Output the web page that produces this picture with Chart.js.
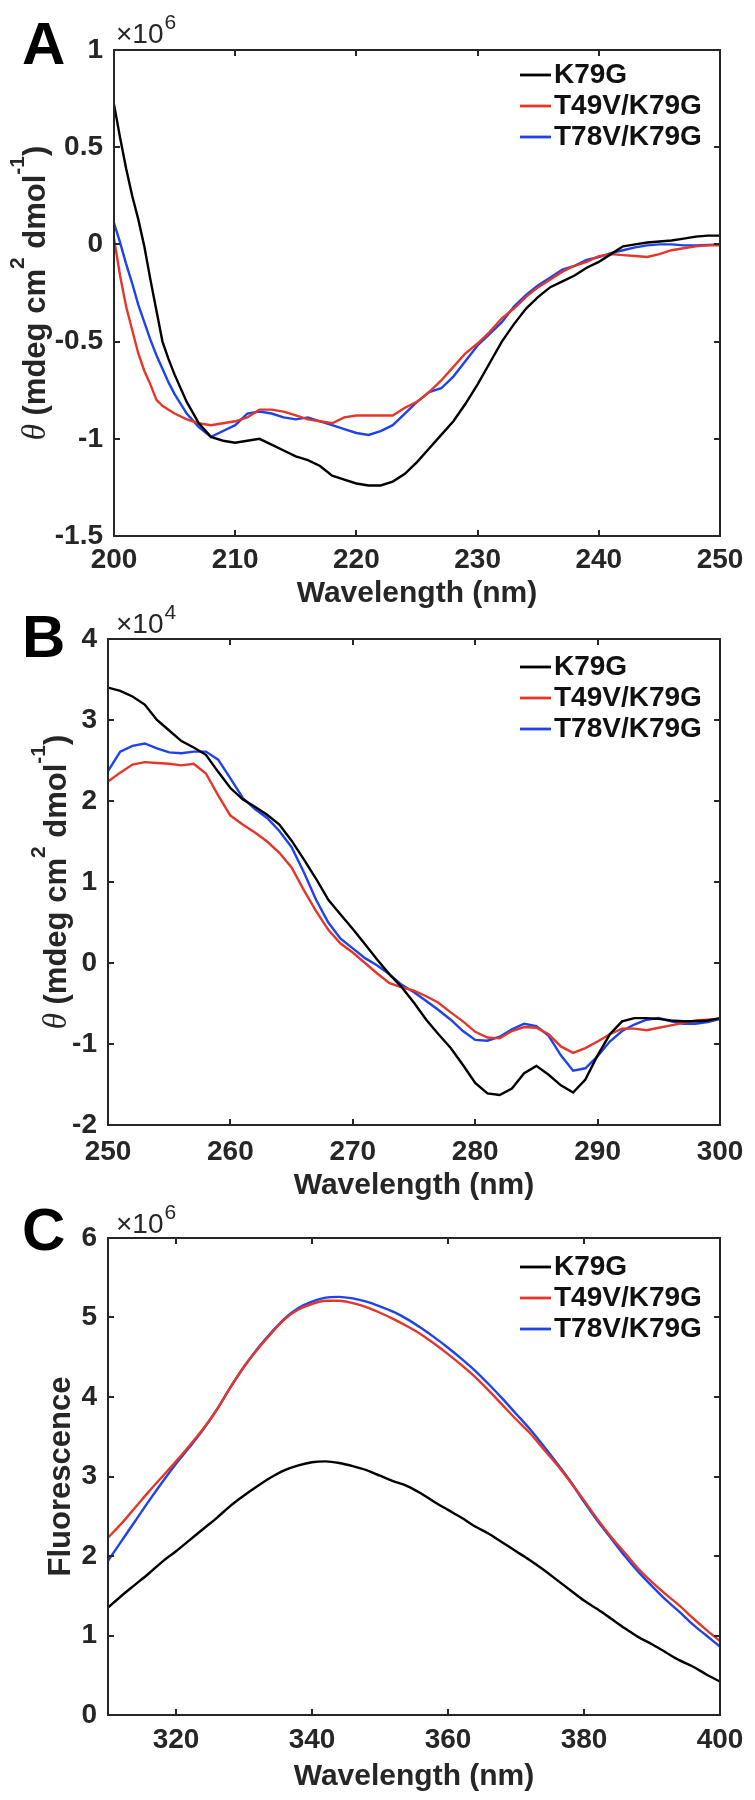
<!DOCTYPE html>
<html>
<head>
<meta charset="utf-8">
<script src="https://cdn.jsdelivr.net/npm/chart.js@4.4.1/dist/chart.umd.min.js"></script>
<style>
  html, body { margin: 0; padding: 0; background: #fff; }
  #wrap { position: relative; width: 755px; height: 1800px; }
  canvas { position: absolute; left: 0; }
</style>
</head>
<body>
<div id="wrap">
  <canvas id="farUV" width="755" height="615" style="top:0px"></canvas>
  <canvas id="nearUV" width="755" height="605" style="top:600px"></canvas>
  <canvas id="fluo" width="755" height="605" style="top:1195px"></canvas>
</div>
<script>
// ===== Données =====
const seriesLabels = ['K79G', 'T49V/K79G', 'T78V/K79G']
const seriesColors = ['#000000', '#e5362a', '#1f43ea']

// A : CD UV lointain (x10^6)
const wlA = [200, 200.5, 201, 201.5, 202, 202.5, 203, 203.5, 204, 204.5, 205,
  206, 207, 208, 209, 210, 211, 212, 213, 214, 215, 216, 217, 218, 219, 220,
  221, 222, 223, 224, 225, 226, 227, 228, 229, 230, 231, 232, 233, 234, 235,
  236, 237, 238, 239, 240, 241, 242, 243, 244, 245, 246, 247, 248, 249, 250]
const k79gA = [0.72, 0.55, 0.39, 0.25, 0.13, -0.01, -0.18, -0.34, -0.50, -0.59, -0.67,
  -0.81, -0.92, -0.99, -1.01, -1.02, -1.01, -1.00, -1.03, -1.06, -1.09, -1.11, -1.14, -1.19, -1.21, -1.23,
  -1.24, -1.24, -1.22, -1.18, -1.12, -1.05, -0.98, -0.91, -0.82, -0.72, -0.61, -0.50, -0.41, -0.33, -0.27,
  -0.22, -0.19, -0.16, -0.12, -0.09, -0.05, -0.01, 0.00, 0.01, 0.015, 0.02, 0.03, 0.04, 0.045, 0.045]
const t49vA = [0.03, -0.16, -0.32, -0.44, -0.56, -0.65, -0.72, -0.80, -0.83, -0.85, -0.87,
  -0.90, -0.92, -0.93, -0.92, -0.91, -0.89, -0.85, -0.85, -0.86, -0.88, -0.90, -0.91, -0.92, -0.89, -0.88,
  -0.88, -0.88, -0.88, -0.84, -0.81, -0.76, -0.70, -0.63, -0.56, -0.51, -0.45, -0.38, -0.33, -0.27, -0.22,
  -0.18, -0.14, -0.11, -0.09, -0.06, -0.05, -0.055, -0.06, -0.065, -0.05, -0.03, -0.02, -0.01, -0.005, -0.005]
const t78vA = [0.11, 0.01, -0.10, -0.20, -0.31, -0.40, -0.49, -0.57, -0.64, -0.71, -0.77,
  -0.87, -0.94, -0.99, -0.96, -0.93, -0.87, -0.86, -0.87, -0.89, -0.90, -0.89, -0.91, -0.93, -0.95, -0.97,
  -0.98, -0.96, -0.93, -0.87, -0.81, -0.76, -0.74, -0.68, -0.60, -0.52, -0.46, -0.40, -0.32, -0.26, -0.21,
  -0.17, -0.13, -0.11, -0.08, -0.065, -0.045, -0.03, -0.015, -0.005, 0.0, 0.0, -0.005, -0.005, -0.003, 0.0]
const xTicksA = [200, 210, 220, 230, 240, 250]
const yTicksA = [-1.5, -1, -0.5, 0, 0.5, 1]

// B : CD UV proche (x10^4)
const wlB = [250, 251, 252, 253, 254, 255, 256, 257, 258, 259, 260, 261, 262, 263, 264, 265,
  266, 267, 268, 269, 270, 271, 272, 273, 274, 275, 276, 277, 278, 279, 280, 281, 282,
  283, 284, 285, 286, 287, 288, 289, 290, 291, 292, 293, 294, 295, 296, 297, 298, 299, 300]
const k79gB = [3.40, 3.36, 3.29, 3.19, 3.00, 2.87, 2.74, 2.66, 2.57, 2.36, 2.16, 2.02, 1.93, 1.83, 1.71, 1.51,
  1.28, 1.04, 0.78, 0.60, 0.42, 0.23, 0.04, -0.14, -0.30, -0.49, -0.70, -0.88, -1.05, -1.26, -1.48, -1.61, -1.63,
  -1.55, -1.36, -1.27, -1.38, -1.51, -1.60, -1.44, -1.14, -0.88, -0.72, -0.68, -0.68, -0.69, -0.71, -0.72, -0.72, -0.71, -0.68]
const t49vB = [2.24, 2.35, 2.45, 2.48, 2.47, 2.46, 2.44, 2.46, 2.34, 2.07, 1.82, 1.71, 1.61, 1.50, 1.36, 1.18,
  0.90, 0.64, 0.41, 0.24, 0.13, 0.00, -0.13, -0.25, -0.30, -0.34, -0.41, -0.49, -0.61, -0.72, -0.85, -0.92, -0.93,
  -0.84, -0.79, -0.80, -0.88, -1.03, -1.11, -1.05, -0.97, -0.88, -0.81, -0.81, -0.83, -0.80, -0.77, -0.74, -0.71, -0.70, -0.69]
const t78vB = [2.37, 2.61, 2.68, 2.71, 2.65, 2.60, 2.59, 2.61, 2.61, 2.51, 2.28, 2.04, 1.90, 1.79, 1.63, 1.43,
  1.12, 0.78, 0.50, 0.30, 0.18, 0.06, -0.03, -0.14, -0.27, -0.36, -0.47, -0.58, -0.70, -0.84, -0.95, -0.96, -0.91,
  -0.82, -0.75, -0.78, -0.90, -1.14, -1.33, -1.30, -1.15, -0.97, -0.84, -0.76, -0.70, -0.68, -0.72, -0.75, -0.75, -0.73, -0.69]
const xTicksB = [250, 260, 270, 280, 290, 300]
const yTicksB = [-2, -1, 0, 1, 2, 3, 4]

// C : fluorescence (x10^6)
const wlC = [310, 312, 314, 316, 318, 320, 322, 324, 326, 328, 330, 332, 334, 336, 338, 340,
  342, 344, 346, 348, 350, 352, 354, 356, 358, 360, 362, 364, 366, 368, 370,
  372, 374, 376, 378, 380, 382, 384, 386, 388, 390, 392, 394, 396, 398, 400]
const k79gC = [1.35, 1.50, 1.64, 1.78, 1.93, 2.06, 2.20, 2.34, 2.48, 2.63, 2.76, 2.88, 2.99, 3.08, 3.14, 3.18,
  3.19, 3.17, 3.13, 3.08, 3.01, 2.94, 2.88, 2.79, 2.68, 2.58, 2.48, 2.37, 2.28, 2.17, 2.06,
  1.95, 1.83, 1.70, 1.57, 1.44, 1.33, 1.21, 1.09, 0.98, 0.89, 0.79, 0.69, 0.61, 0.51, 0.42]
const t49vC = [2.23, 2.41, 2.61, 2.81, 3.00, 3.19, 3.39, 3.60, 3.84, 4.12, 4.38, 4.60, 4.80, 4.98, 5.10, 5.17,
  5.21, 5.21, 5.18, 5.13, 5.06, 4.98, 4.89, 4.79, 4.67, 4.54, 4.40, 4.25, 4.08, 3.90, 3.72,
  3.55, 3.35, 3.15, 2.93, 2.70, 2.46, 2.24, 2.04, 1.84, 1.67, 1.52, 1.38, 1.22, 1.07, 0.93]
const t78vC = [1.94, 2.19, 2.44, 2.69, 2.93, 3.16, 3.37, 3.59, 3.84, 4.12, 4.38, 4.61, 4.81, 4.99, 5.12, 5.20,
  5.25, 5.26, 5.24, 5.20, 5.14, 5.07, 4.98, 4.87, 4.75, 4.62, 4.48, 4.33, 4.16, 3.98, 3.79,
  3.60, 3.39, 3.17, 2.94, 2.68, 2.44, 2.22, 2.00, 1.80, 1.62, 1.45, 1.30, 1.14, 1.00, 0.86]
const xTicksC = [320, 340, 360, 380, 400]
const yTicksC = [0, 1, 2, 3, 4, 5, 6]

// ===== Style =====
const SANS = '"Liberation Sans", Arial, Helvetica, sans-serif'
const AXIS = '#262626'
Chart.defaults.font.family = SANS
Chart.defaults.color = AXIS

const thetaTitle = [
  { t: 'θ', f: 'italic 33px "Liberation Serif", serif', dy: 0 },
  { t: ' (mdeg cm', f: 'bold 31px ' + SANS, dy: 0 },
  { t: '2', f: 'bold 21px ' + SANS, dy: -21 },
  { t: ' dmol', f: 'bold 31px ' + SANS, dy: 0 },
  { t: '-1', f: 'bold 21px ' + SANS, dy: -21 },
  { t: ')', f: 'bold 31px ' + SANS, dy: 0 }
]
const fluoTitle = [{ t: 'Fluorescence', f: 'bold 31px ' + SANS, dy: 0 }]

// cadre façon MATLAB : boîte, graduations internes, légende, lettre, exposant
const matlabFrame = {
  id: 'frame',
  afterDatasetsDraw(chart, args, o) {
    const { ctx, chartArea: a, scales } = chart
    ctx.save()
    ctx.strokeStyle = AXIS
    ctx.lineWidth = 2
    ctx.beginPath()
    scales.x.ticks.forEach(t => {
      const px = Math.round(scales.x.getPixelForValue(t.value))
      ctx.moveTo(px, a.bottom); ctx.lineTo(px, a.bottom - 6)
      ctx.moveTo(px, a.top); ctx.lineTo(px, a.top + 6)
    })
    scales.y.ticks.forEach(t => {
      const py = Math.round(scales.y.getPixelForValue(t.value))
      ctx.moveTo(a.left, py); ctx.lineTo(a.left + 6, py)
      ctx.moveTo(a.right, py); ctx.lineTo(a.right - 6, py)
    })
    ctx.stroke()
    ctx.strokeRect(a.left, a.top, a.right - a.left, a.bottom - a.top)

    // légende
    ctx.textBaseline = 'middle'
    ctx.textAlign = 'left'
    ctx.font = 'bold 28px ' + SANS
    chart.data.datasets.forEach((ds, i) => {
      const y = a.top + o.legendTop + i * 31
      ctx.strokeStyle = ds.borderColor
      ctx.lineWidth = 2.8
      ctx.beginPath(); ctx.moveTo(520, y); ctx.lineTo(551, y); ctx.stroke()
      ctx.fillStyle = '#111'
      ctx.fillText(ds.label, 554, y)
    })

    // lettre du panneau
    ctx.textBaseline = 'alphabetic'
    ctx.fillStyle = '#000'
    ctx.font = 'bold 60px ' + SANS
    ctx.fillText(o.letter, 22, o.letterY)

    // exposant
    if (o.expo) {
      ctx.fillStyle = AXIS
      ctx.font = '28px ' + SANS
      ctx.fillText('×10', 116, o.expoY)
      const w = ctx.measureText('×10').width
      ctx.font = '21px ' + SANS
      ctx.fillText(o.expo, 116 + w + 1, o.expoY - 14)
    }

    // titre de l'axe y (texte enrichi)
    let total = 0
    o.yTitle.forEach(s => { ctx.font = s.f; s.w = ctx.measureText(s.t).width; total += s.w })
    ctx.translate(o.yTitleX, (a.top + a.bottom) / 2)
    ctx.rotate(-Math.PI / 2)
    let x = -total / 2
    ctx.fillStyle = AXIS
    o.yTitle.forEach(s => {
      ctx.font = s.f
      ctx.fillText(s.t, x, s.dy)
      x += s.w
    })
    ctx.restore()
  }
}

function makePanel(id, p) {
  const ys = [p.k79g, p.t49v, p.t78v]
  return new Chart(document.getElementById(id), {
    type: 'line',
    data: {
      datasets: ys.map((vals, k) => ({
        label: seriesLabels[k],
        data: p.wl.map((w, i) => ({ x: w, y: vals[i] })),
        borderColor: seriesColors[k],
        borderWidth: 2.4,
        pointRadius: 0,
        fill: false,
        tension: p.smooth ? 0.4 : 0,
        cubicInterpolationMode: p.smooth ? 'monotone' : 'default'
      }))
    },
    options: {
      responsive: false,
      animation: false,
      events: [],
      layout: { padding: p.pad },
      plugins: {
        legend: { display: false },
        tooltip: { enabled: false },
        frame: p.frame
      },
      scales: {
        x: {
          type: 'linear',
          min: p.xMin,
          max: p.xTicks[p.xTicks.length - 1],
          afterBuildTicks: s => { s.ticks = p.xTicks.map(v => ({ value: v })) },
          afterFit: s => { s.height = p.xH; s.paddingLeft = 0; s.paddingRight = 0; s.paddingTop = 0; s.paddingBottom = 0 },
          grid: { display: false, drawTicks: false },
          border: { display: false },
          ticks: {
            autoSkip: false, maxRotation: 0, padding: p.xPad,
            font: { size: 28, weight: 'bold' }, color: AXIS,
            callback: v => String(v)
          },
          title: {
            display: true, text: 'Wavelength (nm)', color: AXIS,
            font: { size: 30, weight: 'bold' }, padding: { top: 0, bottom: 0 }
          }
        },
        y: {
          type: 'linear',
          min: p.yTicks[0],
          max: p.yTicks[p.yTicks.length - 1],
          afterBuildTicks: s => { s.ticks = p.yTicks.map(v => ({ value: v })) },
          afterFit: s => { s.width = p.yW; s.paddingLeft = 0; s.paddingRight = 0; s.paddingTop = 0; s.paddingBottom = 0 },
          grid: { display: false, drawTicks: false },
          border: { display: false },
          ticks: {
            autoSkip: false, padding: 11,
            font: { size: 28, weight: 'bold' }, color: AXIS,
            callback: v => String(v)
          }
        }
      }
    },
    plugins: [matlabFrame]
  })
}

makePanel('farUV', {
  wl: wlA, k79g: k79gA, t49v: t49vA, t78v: t78vA,
  xTicks: xTicksA, yTicks: yTicksA, xMin: 200,
  pad: { left: 0, top: 50, right: 35, bottom: 3 }, yW: 114, xH: 76, xPad: 7,
  frame: { letter: 'A', letterY: 64, expo: '6', expoY: 43, yTitle: thetaTitle, yTitleX: 45, legendTop: 25 }
})

makePanel('nearUV', {
  wl: wlB, k79g: k79gB, t49v: t49vB, t78v: t78vB,
  xTicks: xTicksB, yTicks: yTicksB, xMin: 250,
  pad: { left: 0, top: 39, right: 35, bottom: 1 }, yW: 108, xH: 79, xPad: 10,
  frame: { letter: 'B', letterY: 57, expo: '4', expoY: 33, yTitle: thetaTitle, yTitleX: 66, legendTop: 28 }
})

makePanel('fluo', {
  wl: wlC, k79g: k79gC, t49v: t49vC, t78v: t78vC,
  xTicks: xTicksC, yTicks: yTicksC, xMin: 310, smooth: true,
  pad: { left: 0, top: 43, right: 35, bottom: 5 }, yW: 108, xH: 80, xPad: 8,
  frame: { letter: 'C', letterY: 55, expo: '6', expoY: 38, yTitle: fluoTitle, yTitleX: 70, legendTop: 29 }
})
</script>
</body>
</html>
